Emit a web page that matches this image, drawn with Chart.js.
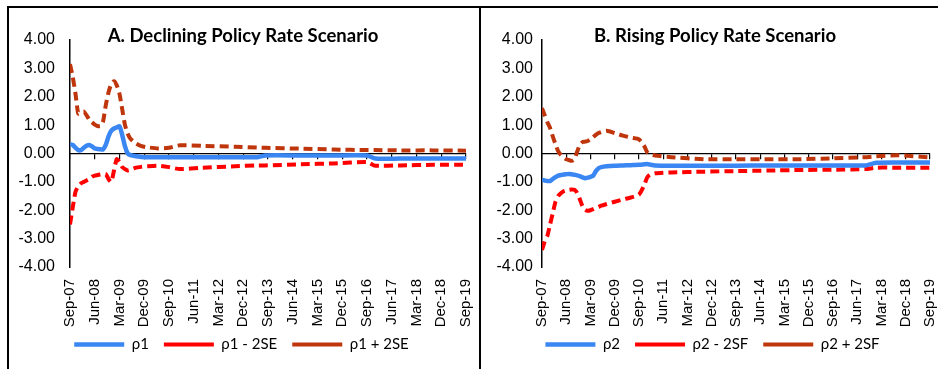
<!DOCTYPE html>
<html>
<head>
<meta charset="utf-8">
<script src="https://cdn.jsdelivr.net/npm/chart.js@4.4.1/dist/chart.umd.min.js"></script>
<style>
  body { margin: 0; background: #fff; }
  #wrap { position: relative; width: 938px; height: 369px; overflow: hidden; }
  .rule { position: absolute; background: #000; }
  .panel { position: absolute; top: 8px; }
</style>
</head>
<body>
<div id="wrap">
  <div class="panel" style="left:9px"><canvas id="chartA" width="470" height="361"></canvas></div>
  <div class="panel" style="left:481px"><canvas id="chartB" width="457" height="361"></canvas></div>
  <div class="rule" style="left:7px;top:6px;width:931px;height:2px"></div>
  <div class="rule" style="left:7px;top:6px;width:2px;height:363px"></div>
  <div class="rule" style="left:479px;top:6px;width:2px;height:363px"></div>
</div>
<script>
// month offsets from Sep-07, labels every 9 months
const tickLabels = ['Sep-07', 'Jun-08', 'Mar-09', 'Dec-09', 'Sep-10', 'Jun-11', 'Mar-12', 'Dec-12',
  'Sep-13', 'Jun-14', 'Mar-15', 'Dec-15', 'Sep-16', 'Jun-17', 'Mar-18', 'Dec-18', 'Sep-19'];

// Panel A - declining policy rate
const monthsA = [0, 1, 2, 3, 4, 5, 6, 7, 8, 9, 10, 11, 12, 13, 14, 15, 16, 17, 18, 19, 20, 21, 22,
  24, 26, 28, 32, 36, 40, 48, 60, 68, 71, 84, 96, 108, 111, 120, 132, 144];
const rho1 = [0.33, 0.30, 0.20, 0.12, 0.12, 0.20, 0.27, 0.30, 0.25, 0.18, 0.16, 0.15, 0.14, 0.30, 0.60,
  0.80, 0.88, 0.92, 0.96, 0.65, 0.25, 0.00, -0.06,
  -0.10, -0.12, -0.13, -0.13, -0.13, -0.13, -0.13, -0.13, -0.13, -0.07, -0.07, -0.07, -0.07, -0.18, -0.18, -0.18, -0.18];
const rho1Low = [-2.50, -1.90, -1.35, -1.15, -1.05, -1.00, -0.95, -0.90, -0.82, -0.78, -0.76, -0.74, -0.72, -0.72, -0.90,
  -1.00, -0.60, -0.20, -0.30, -0.48, -0.55, -0.60, -0.58,
  -0.50, -0.47, -0.45, -0.43, -0.48, -0.55, -0.50, -0.45, -0.42, -0.42, -0.38, -0.35, -0.30, -0.43, -0.42, -0.40, -0.40];
const rho1High = [3.15, 2.70, 2.10, 1.40, 1.45, 1.48, 1.35, 1.20, 1.10, 1.02, 0.97, 0.96, 1.12, 1.70, 2.15,
  2.45, 2.55, 2.40, 2.10, 1.55, 1.00, 0.70, 0.52,
  0.35, 0.26, 0.22, 0.18, 0.20, 0.29, 0.27, 0.24, 0.21, 0.20, 0.17, 0.14, 0.12, 0.12, 0.11, 0.11, 0.10];

// Panel B - rising policy rate
const monthsB = [0, 1, 2, 3, 4, 5, 6, 7, 8, 9, 10, 11, 12, 13, 14, 15, 16, 17, 18, 19, 20, 21, 22,
  24, 27, 30, 33, 36, 38, 39, 40, 42, 48, 60, 72, 84, 96, 108, 120, 124, 132, 144];
const rho2 = [-0.93, -0.95, -0.97, -0.97, -0.90, -0.83, -0.78, -0.76, -0.74, -0.73, -0.72, -0.73, -0.75, -0.77, -0.80,
  -0.84, -0.87, -0.85, -0.82, -0.78, -0.62, -0.52, -0.48,
  -0.45, -0.43, -0.42, -0.41, -0.40, -0.38, -0.37, -0.39, -0.42, -0.43, -0.43, -0.43, -0.42, -0.42, -0.42, -0.42, -0.33, -0.32, -0.32];
const rho2Low = [-3.40, -3.10, -2.90, -2.50, -2.10, -1.70, -1.50, -1.40, -1.33, -1.30, -1.28, -1.27, -1.28, -1.38, -1.60,
  -1.85, -1.98, -2.02, -2.00, -1.96, -1.92, -1.88, -1.84,
  -1.78, -1.70, -1.62, -1.55, -1.45, -1.10, -0.85, -0.75, -0.70, -0.67, -0.64, -0.62, -0.60, -0.58, -0.57, -0.55, -0.50, -0.50, -0.50];
const rho2High = [1.60, 1.35, 1.10, 0.90, 0.60, 0.33, 0.08, -0.05, -0.13, -0.20, -0.23, -0.26, -0.20, 0.05, 0.30,
  0.40, 0.42, 0.44, 0.50, 0.58, 0.66, 0.72, 0.76,
  0.80, 0.72, 0.63, 0.56, 0.50, 0.25, 0.05, -0.02, -0.07, -0.13, -0.20, -0.20, -0.20, -0.20, -0.17, -0.13, -0.10, -0.06, -0.14];

Chart.defaults.font.family = "'Liberation Sans', Arial, sans-serif";
Chart.defaults.font.size = 15;
Chart.defaults.color = '#000';

const BLUE = '#3a86f2';
const RED = '#ff0000';
const DARKRED = '#c0360c';

// draws the panel heading inside the plot, like the Excel chart title
const panelTitle = {
  id: 'panelTitle',
  afterDraw(chart, args, opts) {
    const ctx = chart.ctx;
    ctx.save();
    ctx.font = "bold 18.5px Lato, 'Open Sans', sans-serif";
    ctx.fillStyle = '#000';
    ctx.textAlign = 'center';
    ctx.textBaseline = 'middle';
    ctx.fillText(opts.text, opts.x, opts.y);
    ctx.restore();
  }
};

// pull the legend up a little so it sits closer to the date labels
const legendLift = {
  id: 'legendLift',
  afterLayout(chart, args, opts) {
    if (chart.legend) {
      chart.legend.top -= opts.lift;
      chart.legend.bottom -= opts.lift;
    }
  }
};

function toPoints(months, values) {
  return months.map((m, i) => ({ x: m, y: values[i] }));
}

function makeChart(id, title, names, months, series, pad) {
  const colors = [BLUE, RED, DARKRED];
  const datasets = series.map((vals, i) => ({
    label: names[i],
    data: toPoints(months, vals),
    borderColor: colors[i],
    backgroundColor: colors[i],
    borderWidth: i === 0 ? 4.5 : 4,
    borderDash: i === 0 ? [] : [9, 5],
    pointRadius: 0,
    tension: 0.2,
    xAxisID: 'x',
    yAxisID: 'y'
  }));

  return new Chart(document.getElementById(id), {
    type: 'line',
    data: { datasets },
    plugins: [panelTitle, legendLift],
    options: {
      responsive: false,
      animation: false,
      layout: { padding: { top: 32, right: pad.right, bottom: 1, left: pad.left } },
      scales: {
        x: {
          type: 'linear',
          min: 0, max: 144,
          position: { y: 0 },
          ticks: { display: false, stepSize: 9 },
          grid: { drawOnChartArea: false, drawTicks: true, tickLength: 5, color: '#000', lineWidth: 1.2 },
          border: { color: '#000', width: 1.2 }
        },
        x2: {
          type: 'linear',
          min: 0, max: 144,
          position: 'bottom',
          // room for the rotated labels, which are clipped to this box
          afterFit: (s) => { s.height = 61; s.paddingLeft = 0; s.paddingRight = 0; },
          grid: { display: false, drawTicks: false },
          border: { display: false },
          ticks: {
            stepSize: 9,
            autoSkip: false,
            minRotation: 90,
            maxRotation: 90,
            padding: 12,
            callback: (v) => tickLabels[v / 9]
          }
        },
        y: {
          min: -4, max: 4,
          afterFit: (s) => { s.width = pad.axis; },
          ticks: { stepSize: 1, padding: pad.tick, font: { size: 16 }, callback: (v) => v.toFixed(2) },
          grid: { display: false, drawTicks: false },
          border: { color: '#000', width: 1.5 }
        }
      },
      plugins: {
        panelTitle: { text: title, x: pad.titleX, y: 28 },
        legendLift: { lift: 6 },
        tooltip: { enabled: false },
        legend: {
          position: 'bottom',
          labels: {
            usePointStyle: true,
            pointStyle: 'line',
            pointStyleWidth: 50,
            padding: 15,
            color: '#000',
            font: { family: "Lato, 'Open Sans', sans-serif", size: 15 }
          }
        }
      }
    }
  });
}

makeChart('chartA', 'A. Declining Policy Rate Scenario', ['ρ1', 'ρ1 - 2SE', 'ρ1 + 2SE'],
  monthsA, [rho1, rho1Low, rho1High], { left: 8, right: 13, axis: 53, tick: 15, titleX: 234 });
makeChart('chartB', 'B. Rising Policy Rate Scenario', ['ρ2', 'ρ2 - 2SF', 'ρ2 + 2SF'],
  monthsB, [rho2, rho2Low, rho2High], { left: 14, right: 8, axis: 47, tick: 9, titleX: 234 });
</script>
</body>
</html>
